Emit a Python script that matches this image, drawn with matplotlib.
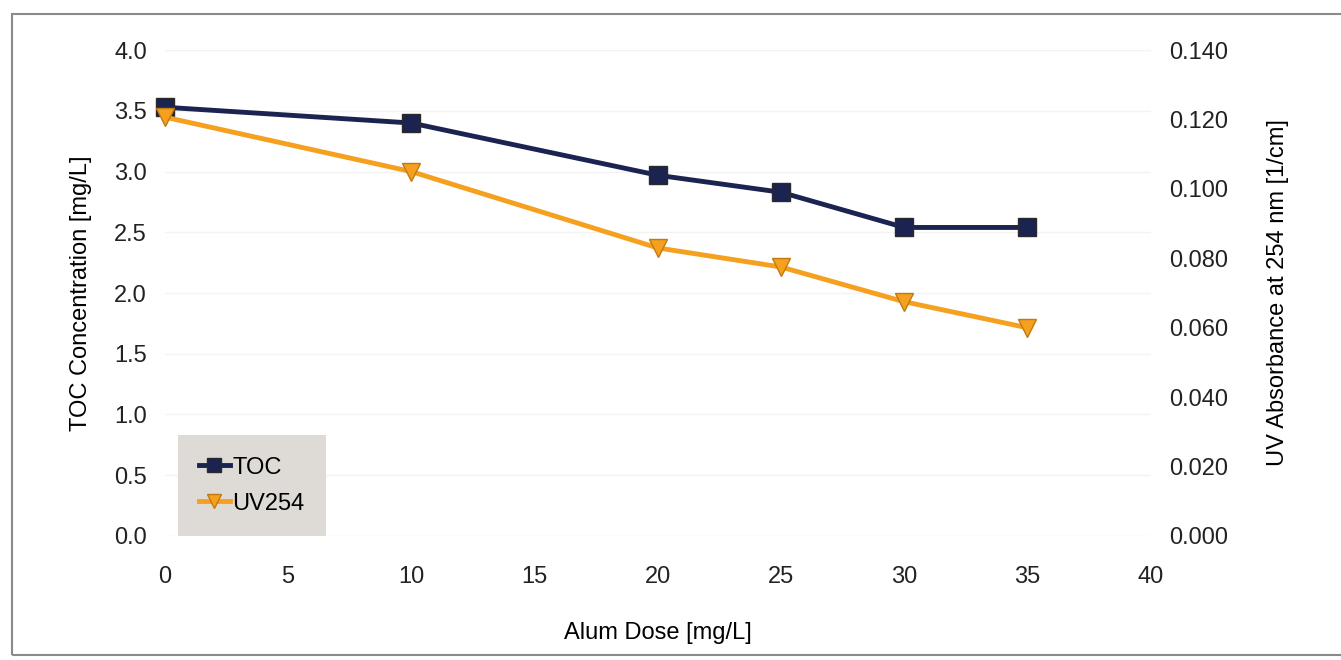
import numpy as np
import matplotlib
matplotlib.use("Agg")
import matplotlib.pyplot as plt
from matplotlib.patches import Rectangle

plt.rcParams['font.family'] = ['Liberation Sans', 'DejaVu Sans']

alum_dose = [0, 10, 20, 25, 30, 35]
toc = [3.53, 3.40, 2.97, 2.83, 2.54, 2.54]
uv254 = [0.1207, 0.1050, 0.0830, 0.0775, 0.0675, 0.0600]

x_ticks = [0, 5, 10, 15, 20, 25, 30, 35, 40]
toc_ticks = [0.0, 0.5, 1.0, 1.5, 2.0, 2.5, 3.0, 3.5, 4.0]
uv_ticks = [0.0, 0.02, 0.04, 0.06, 0.08, 0.10, 0.12, 0.14]

navy = '#1b2350'
orange = '#f5a01e'
fs = 17

fig = plt.figure(figsize=(13.41, 6.6), dpi=100)
ax = fig.add_axes([0.123, 0.188, 0.735, 0.736])
ax2 = ax.twinx()

# outer frame around the chart
fig.patches.append(Rectangle((0.009, 0.008), 0.995, 0.971, transform=fig.transFigure,
                             fill=False, edgecolor='#8a8a8a', linewidth=1.5))

l1, = ax.plot(alum_dose, toc, color=navy, lw=3.5, marker='s', ms=13,
              mfc=navy, mec='#2a2a2a', label='TOC', zorder=4, clip_on=False)
l2, = ax2.plot(alum_dose, uv254, color=orange, lw=3.5, marker='v', ms=13,
               mfc=orange, mec='#c07a10', label='UV254', zorder=3, clip_on=False)

ax.set_xlim(0, 40)
ax.set_ylim(0, 4.0)
ax2.set_ylim(0, 0.14)
ax.set_xticks(x_ticks)
ax.set_yticks(toc_ticks)
ax2.set_yticks(uv_ticks)
ax.set_yticklabels(['%.1f' % t for t in toc_ticks])
ax2.set_yticklabels(['%.3f' % t for t in uv_ticks])

ax.yaxis.grid(True, color='#f3f3f3', lw=1)
ax.set_axisbelow(True)

for a in (ax, ax2):
    for s in a.spines.values():
        s.set_visible(False)
    a.tick_params(length=0, labelsize=fs, colors='#222222')
ax.tick_params(axis='y', pad=13)
ax.tick_params(axis='x', pad=22)
ax2.tick_params(axis='y', pad=13)

ax.set_xlabel('Alum Dose [mg/L]', fontsize=fs, labelpad=24)
ax.set_ylabel('TOC Concentration [mg/L]', fontsize=fs, labelpad=16)
ax2.set_ylabel('UV Absorbance at 254 nm [1/cm]', fontsize=fs, labelpad=28)

leg = ax.legend(handles=[l1, l2], loc='lower left', bbox_to_anchor=(0.013, 0.0),
                borderaxespad=0, fontsize=fs, frameon=True, fancybox=False,
                handlelength=1.3, handletextpad=0.1, borderpad=0.9,
                labelspacing=0.6, markerscale=0.8)
leg.get_frame().set_facecolor('#dedbd6')
leg.get_frame().set_edgecolor('none')
leg.get_frame().set_alpha(1)
leg.set_zorder(10)

fig.savefig('out.png', dpi=100)
